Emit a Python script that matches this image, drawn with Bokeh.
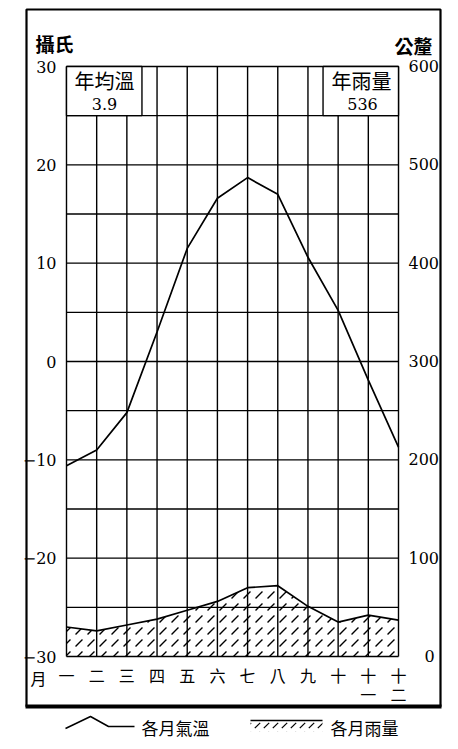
from bokeh.plotting import figure
from bokeh.models import Range1d, LinearAxis, FixedTicker, Label
from bokeh.embed import file_html
from bokeh.resources import INLINE

# ---------------- data ----------------
months = [1, 2, 3, 4, 5, 6, 7, 8, 9, 10, 11, 12]
month_labels = ["一", "二", "三", "四", "五", "六", "七", "八", "九", "十", "十\n一", "十\n二"]
temperature = [-10.6, -9.0, -5.2, 3.0, 11.5, 16.6, 18.7, 17.0, 10.6, 5.2, -1.9, -8.7]
rainfall = [30, 26, 32, 38, 47, 56, 70, 72, 51, 35, 42, 37]
temp_ticks = [-30, -20, -10, 0, 10, 20, 30]
rain_ticks = [0, 100, 200, 300, 400, 500, 600]
grid_levels = [-30, -25, -20, -15, -10, -5, 0, 5, 10, 15, 20, 25, 30]
annual_temp = "3.9"
annual_rain = "536"

# ---------------- layout (canvas pixels) ----------------
W, H = 456, 747
FL, FR, FT, FB = 66, 398, 66, 656  # data area edges in pixels


def X(px):
    return 1 + (px - FL) * 11.0 / (FR - FL)


def Y(py):
    return 30 - (py - FT) * 60.0 / (FB - FT)


p = figure(width=W, height=H, x_range=Range1d(X(0), X(W)), y_range=Range1d(Y(H), Y(0)),
           output_backend="svg", toolbar_location=None,
           min_border_left=0, min_border_right=0, min_border_top=0, min_border_bottom=0)
p.extra_y_ranges = {"rain": Range1d((Y(H) + 30) * 10, (Y(0) + 30) * 10)}
p.background_fill_color = "white"
p.border_fill_color = "white"
p.outline_line_color = None
p.xgrid.visible = False
p.ygrid.visible = False

LW = 1.4
# grid lines inside the data area
p.segment(x0=months, x1=months, y0=-30, y1=30, line_color="black", line_width=LW)
p.segment(x0=1, x1=12, y0=grid_levels, y1=grid_levels, line_color="black", line_width=LW)

# axes drawn at fixed locations
lab_font = "DejaVu Serif"
yl = p.yaxis[0]
yl.ticker = FixedTicker(ticks=temp_ticks)
yl.fixed_location = 1
yr = LinearAxis(y_range_name="rain", ticker=FixedTicker(ticks=rain_ticks), fixed_location=12)
yr.major_label_overrides = {0: "\u2002\u20020"}
p.add_layout(yr, "right")
for ax in (yl, yr):
    ax.axis_line_color = None
    ax.major_tick_line_color = None
    ax.minor_tick_line_color = None
    ax.major_label_text_font = lab_font
    ax.major_label_text_font_size = "16px"
    ax.major_label_text_color = "black"
    ax.major_label_standoff = 4

xb = p.xaxis[0]
xb.ticker = FixedTicker(ticks=months)
xb.fixed_location = -30
xb.major_label_overrides = {m: l for m, l in zip(months, month_labels)}
xb.axis_line_color = None
xb.major_tick_line_color = None
xb.minor_tick_line_color = None
xb.major_label_text_font = "Noto Sans CJK TC"
xb.major_label_text_font_size = "16px"
xb.major_label_text_color = "black"
xb.major_label_text_line_height = 0.8
xb.major_label_standoff = 0

# rainfall area (hatched) and line
p.varea(x=months, y1=0, y2=rainfall, y_range_name="rain", fill_alpha=0,
        hatch_pattern="right_diagonal_dash", hatch_color="black",
        hatch_scale=12, hatch_weight=1.3)
p.line(months, rainfall, y_range_name="rain", line_color="black", line_width=1.7)

# temperature line
p.line(months, temperature, line_color="black", line_width=1.7)

# annual boxes
p.quad(left=[1, 9.5], right=[3.5, 12], bottom=[25, 25], top=[30, 30],
       fill_color="white", line_color="black", line_width=LW)

# outer frame
p.quad(left=X(26), right=X(440), top=Y(9), bottom=Y(706),
       fill_alpha=0, line_color="black", line_width=2.2)
p.quad(left=X(25), right=X(441), top=Y(704), bottom=Y(708),
       fill_color="black", line_alpha=0)

cjk = "Noto Sans CJK TC"


def label(px, py, text, size, font=cjk, align="center", bold=False):
    p.add_layout(Label(x=X(px), y=Y(py), text=text, text_align=align,
                       text_baseline="middle", text_font=font,
                       text_font_size=size, text_color="black",
                       text_font_style="bold" if bold else "normal"))


label(104, 80, "年均溫", "20px")
label(104, 103, annual_temp, "16px", font=lab_font)
label(361, 80, "年雨量", "20px")
label(362, 103, annual_rain, "16px", font=lab_font)
label(54, 43, "攝氏", "19px", bold=True)
label(413, 45, "公釐", "19px", bold=True)
label(38, 677, "月", "16px")
label(141, 727, "各月氣溫", "17px", align="left")
label(330, 727, "各月雨量", "17px", align="left")

# legend symbols
p.line(x=[X(65), X(90), X(108), X(134)], y=[Y(728), Y(716), Y(726), Y(726)],
       line_color="black", line_width=1.5)
p.quad(left=X(250), right=X(322), top=Y(720), bottom=Y(731), fill_alpha=0, line_alpha=0,
       hatch_pattern="right_diagonal_dash", hatch_color="black",
       hatch_scale=9, hatch_weight=1.2)
p.line(x=[X(250), X(322)], y=[Y(720), Y(720)], line_color="black", line_width=1.5)

open("out.html", "w").write(file_html(p, INLINE))
